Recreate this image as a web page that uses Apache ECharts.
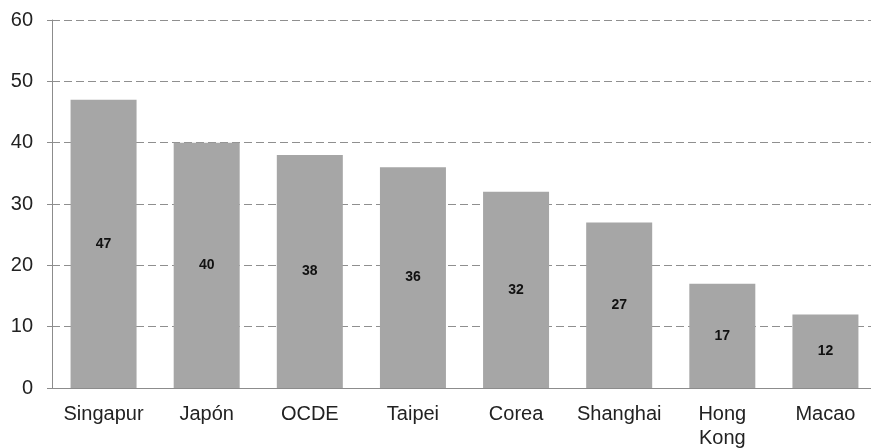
<!DOCTYPE html>
<html><head><meta charset="utf-8">
<script src="https://cdn.jsdelivr.net/npm/echarts@6/dist/echarts.min.js"></script>
<style>html,body{margin:0;padding:0;background:#fff}#c{width:871px;height:448px}</style>
</head><body><div id="c"></div>
<script>
const categories = ["Singapur", "Japón", "OCDE", "Taipei", "Corea", "Shanghai", "Hong\nKong", "Macao"];
const values = [47, 40, 38, 36, 32, 27, 17, 12];
const yTicks = [0, 10, 20, 30, 40, 50, 60];

const chart = echarts.init(document.getElementById('c'));
chart.setOption({
  animation: false,
  grid: {left: 52, top: 20, right: -6, bottom: 60, outerBoundsMode: 'none', containLabel: false},
  xAxis: {
    type: 'category', data: categories,
    axisLine: {lineStyle: {color: '#8c8c8c', width: 1}},
    axisTick: {show: false},
    axisLabel: {color: '#222', fontFamily: 'Liberation Sans', fontSize: 20, margin: 14, lineHeight: 24, interval: 0}
  },
  yAxis: {
    type: 'value', min: yTicks[0], max: yTicks[yTicks.length-1], interval: 10,
    axisLine: {show: true, lineStyle: {color: '#8c8c8c'}},
    axisTick: {show: true, length: 5, lineStyle: {color: '#8c8c8c'}},
    axisLabel: {color: '#222', fontFamily: 'Liberation Sans', fontSize: 20, margin: 19},
    splitLine: {lineStyle: {type: [8, 4], color: '#8f8f8f'}}
  },
  series: [{
    type: 'bar', data: values, barWidth: 66,
    itemStyle: {color: '#a6a6a6'},
    label: {show: true, position: 'inside', color: '#111', fontFamily: 'Liberation Sans', fontSize: 14, fontWeight: 'bold'}
  }]
});
</script></body></html>
